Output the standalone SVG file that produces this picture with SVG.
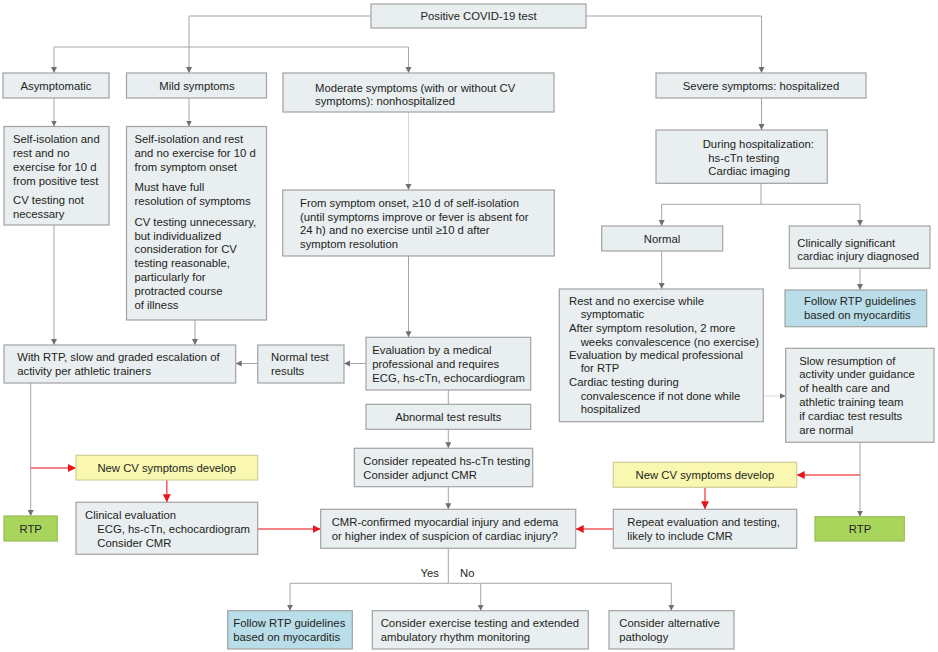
<svg xmlns="http://www.w3.org/2000/svg" width="938" height="652" viewBox="0 0 938 652">
<style>
rect{stroke-width:1.2}
.box{fill:#e9eef0;stroke:#a2a2a2}
.yel{fill:#f9f7b0;stroke:#cfcd98}
.grn{fill:#a9d55c;stroke:#95bf55}
.blu{fill:#b9dde9;stroke:#a2a2a2}
text{font-family:"Liberation Sans",Arial,sans-serif;font-size:11.3px;fill:#231f20}
.c{text-anchor:middle}
.ln{stroke:#a5a5a5;stroke-width:1;fill:none}
.lt{stroke:#d6d6d6;stroke-width:1;fill:none}
.rd{stroke:#f25a5a;stroke-width:1.5;fill:none}
</style>
<defs>
<marker id="ga" markerUnits="userSpaceOnUse" markerWidth="7" markerHeight="7" refX="6" refY="3" orient="auto"><path d="M0,0 L6,3 L0,6 z" fill="#707070"/></marker>
<marker id="ra" markerUnits="userSpaceOnUse" markerWidth="10" markerHeight="10" refX="8" refY="4" orient="auto"><path d="M0,0 L8,4 L0,8 z" fill="#e8141b"/></marker>
</defs>
<g id="connectors">
<path class="ln" d="M371,16 H189 V73" marker-end="url(#ga)"/>
<path class="ln" d="M189,47 H54 V73" marker-end="url(#ga)"/>
<path class="ln" d="M189,47 H408.5 V73" marker-end="url(#ga)"/>
<path class="ln" d="M586,16 H761.5 V73" marker-end="url(#ga)"/>
<path class="ln" d="M54,98 V126.5" marker-end="url(#ga)"/>
<path class="ln" d="M189,98 V126.5" marker-end="url(#ga)"/>
<path class="lt" d="M408.5,112 V190" marker-end="url(#ga)"/>
<path class="ln" d="M408.5,256 V337.3" marker-end="url(#ga)"/>
<path class="ln" d="M54,225 V345" marker-end="url(#ga)"/>
<path class="ln" d="M195,320 V345" marker-end="url(#ga)"/>
<path class="ln" d="M366,363.5 H344" marker-end="url(#ga)"/>
<path class="ln" d="M257.7,363.5 H235.7" marker-end="url(#ga)"/>
<path class="ln" d="M448.3,390 V404.3"/>
<path class="ln" d="M448.3,429.3 V448.3" marker-end="url(#ga)"/>
<path class="ln" d="M448.3,486.7 V509.3" marker-end="url(#ga)"/>
<path class="ln" d="M448.3,548.3 V583.3"/>
<path class="ln" d="M448.3,583.3 H290 V610.7" marker-end="url(#ga)"/>
<path class="ln" d="M448.3,583.3 H671.3 V610.7" marker-end="url(#ga)"/>
<path class="ln" d="M480.7,583.3 V610.7" marker-end="url(#ga)"/>
<path class="ln" d="M30.7,383 V516" marker-end="url(#ga)"/>
<path class="rd" d="M30.7,468 H76" marker-end="url(#ra)"/>
<path class="rd" d="M166.8,480 V502.3" marker-end="url(#ra)"/>
<path class="rd" d="M257.7,529 H320.7" marker-end="url(#ra)"/>
<path class="ln" d="M761.5,98 V130" marker-end="url(#ga)"/>
<path class="ln" d="M761,183.3 V204.3"/>
<path class="ln" d="M761,204.3 H661.7 V226" marker-end="url(#ga)"/>
<path class="ln" d="M761,204.3 H860 V226" marker-end="url(#ga)"/>
<path class="ln" d="M661.7,251 V289" marker-end="url(#ga)"/>
<path class="ln" d="M860,268.3 V290" marker-end="url(#ga)"/>
<path class="lt" d="M763.3,396 H785.7" marker-end="url(#ga)"/>
<path class="ln" d="M860,442.3 V516.7" marker-end="url(#ga)"/>
<path class="rd" d="M860,475 H796.7" marker-end="url(#ra)"/>
<path class="rd" d="M705,487.3 V509.3" marker-end="url(#ra)"/>
<path class="rd" d="M613.3,529 H575.7" marker-end="url(#ra)"/>
</g>
<g id="n-positive"><rect class="box" x="371" y="4" width="215" height="24"/><text class="c" x="478.5" y="20">Positive COVID-19 test</text></g>
<g id="n-asym"><rect class="box" x="3" y="73" width="106" height="25"/><text class="c" x="56" y="89.5">Asymptomatic</text></g>
<g id="n-mild"><rect class="box" x="126.5" y="73" width="140" height="25"/><text class="c" x="197" y="89.5">Mild symptoms</text></g>
<g id="n-moderate"><rect class="box" x="283" y="73" width="271" height="39"/><text x="315" y="91.5">Moderate symptoms (with or without CV<tspan x="315" y="105">symptoms): nonhospitalized</tspan></text></g>
<g id="n-severe"><rect class="box" x="656" y="73" width="210" height="25"/><text class="c" x="761" y="89.5">Severe symptoms: hospitalized</text></g>
<g id="n-asym-detail"><rect class="box" x="4" y="126.5" width="105" height="98.5"/><text x="13" y="142.5">Self-isolation and<tspan x="13" y="156.5">rest and no</tspan><tspan x="13" y="170.5">exercise for 10 d</tspan><tspan x="13" y="184.5">from positive test</tspan><tspan x="13" y="204">CV testing not</tspan><tspan x="13" y="218">necessary</tspan></text></g>
<g id="n-mild-detail"><rect class="box" x="126.5" y="126.5" width="140" height="193.5"/><text x="134.5" y="143">Self-isolation and rest<tspan x="134.5" y="157">and no exercise for 10 d</tspan><tspan x="134.5" y="171">from symptom onset</tspan><tspan x="134.5" y="191">Must have full</tspan><tspan x="134.5" y="205">resolution of symptoms</tspan><tspan x="134.5" y="225.5">CV testing unnecessary,</tspan><tspan x="134.5" y="239.5">but individualized</tspan><tspan x="134.5" y="253">consideration for CV</tspan><tspan x="134.5" y="267">testing reasonable,</tspan><tspan x="134.5" y="281">particularly for</tspan><tspan x="134.5" y="295">protracted course</tspan><tspan x="134.5" y="309">of illness</tspan></text></g>
<g id="n-moderate-detail"><rect class="box" x="282.7" y="190" width="271.6" height="66"/><text x="300" y="207.3">From symptom onset, ≥10 d of self-isolation<tspan x="300" y="220.7">(until symptoms improve or fever is absent for</tspan><tspan x="300" y="234">24 h) and no exercise until ≥10 d after</tspan><tspan x="300" y="248">symptom resolution</tspan></text></g>
<g id="n-during"><rect class="box" x="656" y="130" width="171.3" height="53.3"/><text x="702.7" y="148.3">During hospitalization:<tspan x="708.3" y="161.7">hs-cTn testing</tspan><tspan x="708.3" y="175">Cardiac imaging</tspan></text></g>
<g id="n-normal"><rect class="box" x="601.7" y="226" width="121" height="25"/><text class="c" x="662" y="242.5">Normal</text></g>
<g id="n-injury"><rect class="box" x="789.3" y="226" width="140.7" height="42.3"/><text x="797.3" y="246.7">Clinically significant<tspan x="797.3" y="259.7">cardiac injury diagnosed</tspan></text></g>
<g id="n-follow-right"><rect class="blu" x="785" y="290" width="141.7" height="36.7"/><text x="804" y="305">Follow RTP guidelines<tspan x="804" y="319">based on myocarditis</tspan></text></g>
<g id="n-rest"><rect class="box" x="559.3" y="289" width="204" height="132.7"/><text x="569" y="305">Rest and no exercise while<tspan x="580.7" y="318.3">symptomatic</tspan><tspan x="569" y="332.3">After symptom resolution, 2 more</tspan><tspan x="580.7" y="345.7">weeks convalescence (no exercise)</tspan><tspan x="569" y="359">Evaluation by medical professional</tspan><tspan x="580.7" y="372.3">for RTP</tspan><tspan x="569" y="385.7">Cardiac testing during</tspan><tspan x="580.7" y="400">convalescence if not done while</tspan><tspan x="580.7" y="413.3">hospitalized</tspan></text></g>
<g id="n-slow"><rect class="box" x="785.7" y="348.3" width="148.3" height="94"/><text x="799.3" y="364.7">Slow resumption of<tspan x="799.3" y="378.3">activity under guidance</tspan><tspan x="799.3" y="392.3">of health care and</tspan><tspan x="799.3" y="406.3">athletic training team</tspan><tspan x="799.3" y="420">if cardiac test results</tspan><tspan x="799.3" y="434">are normal</tspan></text></g>
<g id="n-with-rtp"><rect class="box" x="4" y="345" width="231.7" height="38"/><text x="17.3" y="360.7">With RTP, slow and graded escalation of<tspan x="17.3" y="374.7">activity per athletic trainers</tspan></text></g>
<g id="n-normal-results"><rect class="box" x="257.7" y="345" width="86.3" height="38"/><text x="271" y="361">Normal test<tspan x="271" y="375">results</tspan></text></g>
<g id="n-evaluation"><rect class="box" x="366" y="337.3" width="164.7" height="52.7"/><text x="372.3" y="354">Evaluation by a medical<tspan x="372.3" y="368">professional and requires</tspan><tspan x="372.3" y="381.7">ECG, hs-cTn, echocardiogram</tspan></text></g>
<g id="n-abnormal"><rect class="box" x="366" y="404.3" width="164.7" height="25"/><text class="c" x="448.3" y="421">Abnormal test results</text></g>
<g id="n-repeated"><rect class="box" x="354.3" y="448.3" width="178.4" height="38.4"/><text x="363.3" y="465">Consider repeated hs-cTn testing<tspan x="363.3" y="479">Consider adjunct CMR</tspan></text></g>
<g id="n-newcv-left"><rect class="yel" x="76" y="455.3" width="181.7" height="24.7"/><text class="c" x="166.8" y="471.7">New CV symptoms develop</text></g>
<g id="n-newcv-right"><rect class="yel" x="613.3" y="462.3" width="183.4" height="25"/><text class="c" x="705" y="479">New CV symptoms develop</text></g>
<g id="n-clinical"><rect class="box" x="76" y="502.3" width="181.7" height="52"/><text x="85" y="519">Clinical evaluation<tspan x="97.3" y="533">ECG, hs-cTn, echocardiogram</tspan><tspan x="97.3" y="546.7">Consider CMR</tspan></text></g>
<g id="n-cmr"><rect class="box" x="320.7" y="509.3" width="255" height="39"/><text x="331.7" y="525.7">CMR-confirmed myocardial injury and edema<tspan x="331.7" y="539.7">or higher index of suspicion of cardiac injury?</tspan></text></g>
<g id="n-repeat"><rect class="box" x="613.3" y="509.3" width="183.4" height="39"/><text x="627.3" y="526.3">Repeat evaluation and testing,<tspan x="627.3" y="539.7">likely to include CMR</tspan></text></g>
<g id="n-rtp-left"><rect class="grn" x="4" y="516" width="53.3" height="25"/><text class="c" x="30.7" y="532.5">RTP</text></g>
<g id="n-rtp-right"><rect class="grn" x="815" y="516.7" width="89.3" height="24.3"/><text class="c" x="860" y="533">RTP</text></g>
<g id="labels"><text x="439" y="577" text-anchor="end">Yes</text><text x="460" y="577">No</text></g>
<g id="n-follow-bottom"><rect class="blu" x="227.7" y="610.7" width="124.6" height="38.3"/><text x="233.3" y="626.7">Follow RTP guidelines<tspan x="233.3" y="640.7">based on myocarditis</tspan></text></g>
<g id="n-exercise"><rect class="box" x="372.3" y="610.7" width="216" height="38.3"/><text x="380.7" y="626.7">Consider exercise testing and extended<tspan x="380.7" y="640.7">ambulatory rhythm monitoring</tspan></text></g>
<g id="n-alternative"><rect class="box" x="609" y="610.7" width="125" height="38.3"/><text x="619.3" y="626.7">Consider alternative<tspan x="619.3" y="640.7">pathology</tspan></text></g>
</svg>
